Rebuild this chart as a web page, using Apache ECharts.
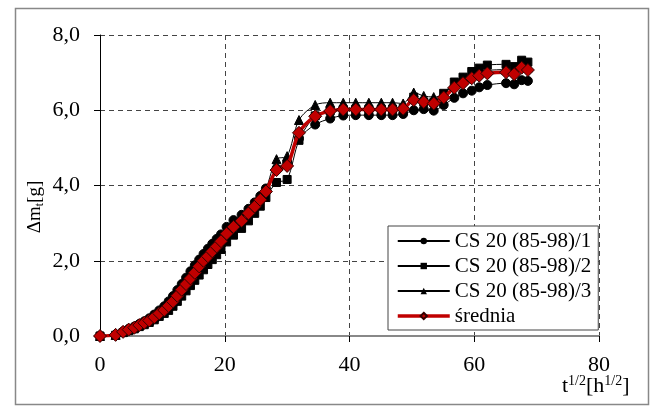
<!DOCTYPE html>
<html>
<head>
<meta charset="utf-8">
<script src="https://cdn.jsdelivr.net/npm/echarts@6/dist/echarts.min.js"></script>
<style>
  html, body { margin: 0; padding: 0; background: #fff; }
  #main { width: 652px; height: 408px; }
</style>
</head>
<body>
<div id="main"></div>
<script>
// x = t^(1/2) [h^(1/2)]
var tSqrt = [0, 2.5, 3.7, 4.6, 5.5, 6.3, 7.1, 7.9, 8.7, 9.5, 10.3, 11.0, 11.7, 12.4, 13.1, 13.8, 14.5, 15.2, 15.9, 16.6,
  17.3, 18.0, 18.7, 19.4, 20.3, 21.4, 22.7, 23.8, 24.8, 25.7, 26.6, 28.3, 30.0, 31.9, 34.5, 36.9, 39.0, 41.0, 43.1, 45.1,
  46.9, 48.6, 50.3, 51.9, 53.5, 55.1, 56.8, 58.2, 59.6, 60.8, 62.1, 65.1, 66.4, 67.6, 68.6];

var sample1 = [0, 0.03, 0.12, 0.19, 0.25, 0.32, 0.39, 0.47, 0.57, 0.68, 0.79, 0.92, 1.06, 1.22, 1.38, 1.55, 1.72, 1.88, 2.03, 2.18,
  2.32, 2.45, 2.58, 2.70, 2.90, 3.08, 3.22, 3.38, 3.55, 3.72, 3.92, 4.45, 4.62, 5.25, 5.62, 5.78, 5.86, 5.87, 5.87, 5.87,
  5.87, 5.90, 6.00, 6.03, 5.99, 6.14, 6.33, 6.45, 6.52, 6.61, 6.67, 6.72, 6.69, 6.80, 6.78];

var sample2 = [0, 0.02, 0.09, 0.14, 0.19, 0.25, 0.30, 0.36, 0.43, 0.52, 0.60, 0.68, 0.79, 0.92, 1.06, 1.20, 1.34, 1.48, 1.62, 1.76,
  1.90, 2.03, 2.16, 2.30, 2.50, 2.68, 2.86, 3.06, 3.26, 3.45, 3.68, 4.08, 4.16, 5.20, 5.85, 5.98, 6.02, 6.03, 6.03, 6.03,
  6.03, 6.05, 6.35, 6.22, 6.20, 6.45, 6.75, 6.88, 7.03, 7.12, 7.20, 7.22, 7.16, 7.33, 7.28];

var sample3 = [0, 0.03, 0.11, 0.17, 0.23, 0.29, 0.36, 0.42, 0.50, 0.60, 0.69, 0.80, 0.92, 1.07, 1.22, 1.37, 1.52, 1.67, 1.82, 1.98,
  2.12, 2.26, 2.40, 2.55, 2.76, 2.94, 3.10, 3.30, 3.50, 3.68, 3.90, 4.70, 4.78, 5.74, 6.14, 6.20, 6.20, 6.20, 6.20, 6.20,
  6.20, 6.18, 6.47, 6.38, 6.35, 6.42, 6.72, 6.85, 6.98, 7.02, 7.06, 7.08, 7.03, 7.20, 7.14];

var average = [0, 0.03, 0.11, 0.17, 0.22, 0.29, 0.35, 0.41, 0.50, 0.60, 0.69, 0.80, 0.92, 1.07, 1.23, 1.38, 1.53, 1.68, 1.85, 2.00,
  2.12, 2.25, 2.38, 2.52, 2.72, 2.90, 3.06, 3.26, 3.44, 3.62, 3.84, 4.41, 4.52, 5.40, 5.84, 5.98, 6.02, 6.02, 6.02, 6.02,
  6.02, 6.04, 6.27, 6.22, 6.18, 6.34, 6.60, 6.72, 6.85, 6.92, 6.98, 7.01, 6.96, 7.13, 7.07];

var seriesNames = ['CS 20 (85-98)/1', 'CS 20 (85-98)/2', 'CS 20 (85-98)/3', 'średnia'];

function pairs(ys) {
  return tSqrt.map(function (x, i) { return [x, ys[i]]; });
}

var serif = 'Liberation Serif';
var chart = echarts.init(document.getElementById('main'));

function blackSeries(name, ys, symbol, size) {
  return {
    name: name,
    type: 'line',
    data: pairs(ys),
    smooth: 0.3,
    symbol: symbol,
    symbolSize: size,
    showAllSymbol: true,
    itemStyle: { color: '#000', borderColor: '#000' },
    lineStyle: { color: '#000', width: 1 },
    z: 2
  };
}

var option = {
  animation: false,
  backgroundColor: '#fff',
  grid: { left: 100, right: 53, top: 35, bottom: 72 },
  legend: {
    orient: 'vertical',
    left: 388,
    top: 226,
    padding: [4, 7, 3, 8],
    itemGap: 3,
    itemWidth: 52,
    itemHeight: 8,
    backgroundColor: '#fff',
    borderColor: '#444',
    borderWidth: 1,
    borderRadius: 0,
    textStyle: { fontFamily: serif, fontSize: 21, color: '#000', lineHeight: 22 },
    data: [
      seriesNames[0],
      seriesNames[1],
      seriesNames[2],
      { name: seriesNames[3], lineStyle: { width: 3.5, color: '#C00000' } }
    ]
  },
  xAxis: {
    type: 'value',
    min: 0,
    max: 80,
    interval: 20,
    axisLine: { onZero: false, lineStyle: { color: '#888', width: 2 } },
    axisTick: { show: true, length: 6, lineStyle: { color: '#000' } },
    axisLabel: { fontFamily: serif, fontSize: 22, color: '#000', margin: 18 },
    splitLine: { show: true, lineStyle: { color: '#444', type: [5, 4], width: 1 } }
  },
  yAxis: {
    type: 'value',
    min: 0,
    max: 8,
    interval: 2,
    axisLine: { show: true, lineStyle: { color: '#000', width: 1 } },
    axisTick: { show: true, length: 6, lineStyle: { color: '#000' } },
    axisLabel: {
      fontFamily: serif, fontSize: 22, color: '#000', margin: 20,
      formatter: function (v) { return v.toFixed(1).replace('.', ','); }
    },
    splitLine: { show: true, lineStyle: { color: '#444', type: [5, 4], width: 1 } }
  },
  graphic: [
    {
      type: 'rect',
      left: 13, top: 6,
      shape: { width: 633, height: 396 },
      style: { fill: 'none', stroke: '#888', lineWidth: 1.5 },
      silent: true
    },
    {
      type: 'text',
      x: 35, y: 207,
      rotation: Math.PI / 2,
      style: {
        text: '{a|Δm}{s|t}{a|[g]}',
        align: 'center',
        verticalAlign: 'middle',
        rich: {
          a: { fontFamily: serif, fontSize: 19, fill: '#000' },
          s: { fontFamily: serif, fontSize: 12, fill: '#000', padding: [9, 0, 0, 0] }
        }
      }
    },
    {
      type: 'text',
      x: 562, y: 374,
      style: {
        text: '{a|t}{s|1/2}{a|[h}{s|1/2}{a|]}',
        rich: {
          a: { fontFamily: serif, fontSize: 22, fill: '#000' },
          s: { fontFamily: serif, fontSize: 14, fill: '#000', padding: [0, 0, 10, 0] }
        }
      }
    }
  ],
  series: [
    blackSeries(seriesNames[0], sample1, 'circle', 9),
    blackSeries(seriesNames[1], sample2, 'rect', 8),
    blackSeries(seriesNames[2], sample3, 'triangle', 9),
    {
      name: seriesNames[3],
      type: 'line',
      data: pairs(average),
      smooth: 0.3,
      symbol: 'diamond',
      symbolSize: 13,
      showAllSymbol: true,
      itemStyle: { color: '#C00000', borderColor: '#300', borderWidth: 1 },
      lineStyle: { color: '#C00000', width: 3.5 },
      z: 3
    }
  ]
};

chart.setOption(option);
</script>
</body>
</html>
